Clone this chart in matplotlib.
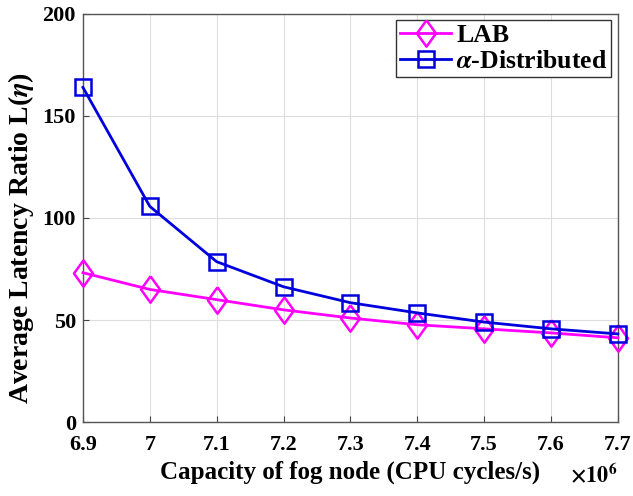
import matplotlib.pyplot as plt
import matplotlib as mpl

# Capacity of fog node (x 10^6 CPU cycles/s)
capacity = [6.9, 7.0, 7.1, 7.2, 7.3, 7.4, 7.5, 7.6, 7.7]
lab = [73.2, 65.0, 60.0, 55.0, 51.0, 47.7, 45.7, 43.7, 41.3]
alpha_dist = [164.0, 105.7, 78.6, 66.3, 58.5, 53.5, 49.0, 45.7, 43.2]
xticks = [6.9, 7.0, 7.1, 7.2, 7.3, 7.4, 7.5, 7.6, 7.7]
xticklabels = ['6.9', '7', '7.1', '7.2', '7.3', '7.4', '7.5', '7.6', '7.7']
yticks = [0, 50, 100, 150, 200]

mpl.rcParams['font.family'] = 'Liberation Serif'
mpl.rcParams['font.weight'] = 'bold'
mpl.rcParams['mathtext.fontset'] = 'stix'

# MATLAB-like diamond, a bit narrower than tall
diamond = [(0, 1), (0.72, 0), (0, -1), (-0.72, 0), (0, 1)]

fig = plt.figure(figsize=(6.33, 4.96), dpi=100)
ax = fig.add_axes([0.131, 0.149, 0.845, 0.823])

ax.plot(capacity, lab, color='#ff00ff', linewidth=2, marker=diamond, markersize=19,
        markerfacecolor='none', markeredgewidth=1.8, label='LAB', zorder=3, clip_on=False)
ax.plot(capacity, alpha_dist, color='#0000dd', linewidth=2, marker='s', markersize=11,
        markerfacecolor='none', markeredgewidth=1.8, label=r'$\alpha$-Distributed', zorder=4,
        clip_on=False)

ax.set_xlim(6.9, 7.7)
ax.set_ylim(0, 200)
ax.set_xticks(xticks)
ax.set_xticklabels(xticklabels)
ax.set_yticks(yticks)
ax.tick_params(labelsize=16, direction='in', length=4, color='#444444')
ax.tick_params(axis='x', pad=9)
ax.tick_params(axis='y', pad=5)
ax.grid(True, color='#dddddd', linewidth=0.8)
ax.set_axisbelow(True)
for s in ax.spines.values():
    s.set_color('#555555')
    s.set_linewidth(1.0)

ax.set_xlabel('Capacity of fog node (CPU cycles/s)', fontsize=18, fontweight='bold', labelpad=4)
ax.set_ylabel(r'Average Latency Ratio L($\eta$)', fontsize=20, fontweight='bold')
ax.yaxis.set_label_coords(-0.088, 0.45)
fig.text(0.900, 0.026, r'$\times10^6$', fontsize=16, ha='left', va='baseline')

leg = ax.legend(loc='upper right', handlelength=2.0, borderaxespad=0.25,
                handletextpad=0.2, borderpad=0.15, labelspacing=0.1, fancybox=False,
                framealpha=1, edgecolor='#333333', prop={'weight': 'bold', 'size': 18.5})
leg.get_frame().set_linewidth(1.0)

fig.savefig('out.png', dpi=100)
